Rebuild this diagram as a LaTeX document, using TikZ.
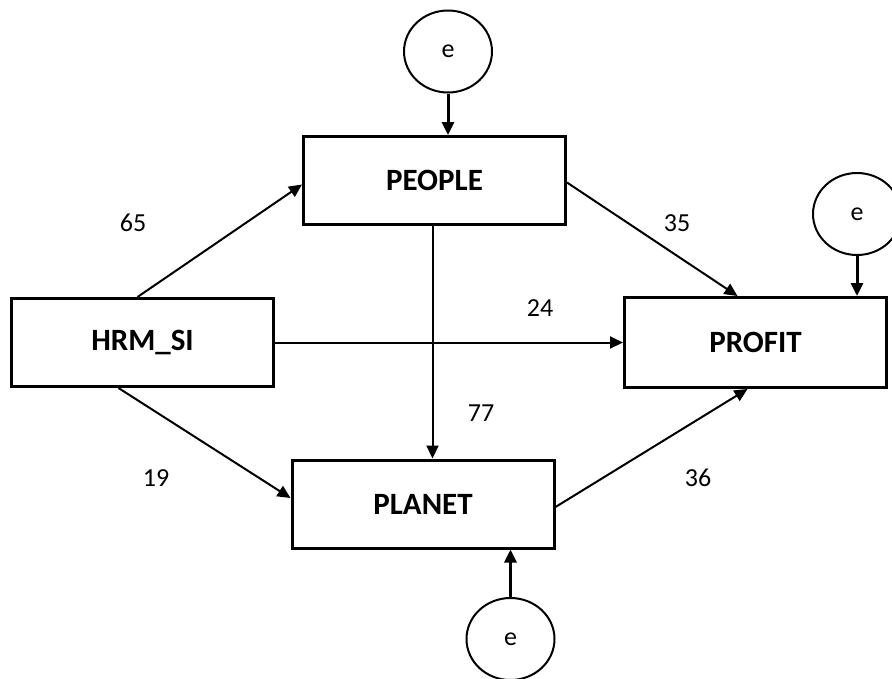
\documentclass[tikz,border=0pt]{standalone}
\usepackage{fontspec}
\setmainfont{Carlito}
\usetikzlibrary{shapes.geometric, arrows.meta, positioning}

\begin{document}
\begin{tikzpicture}[
    x=1pt, y=-1pt,
    var/.style={rectangle, draw, line width=3pt, minimum width=262pt, minimum height=88pt, inner sep=0pt, font=\fontsize{31}{31}\selectfont\bfseries},
    err/.style={ellipse, draw, line width=2pt, minimum width=88pt, minimum height=82pt, inner sep=0pt, font=\fontsize{26}{26}\selectfont},
    arrow/.style={-{Triangle[length=13pt, width=12pt]}, line width=2pt},
    errarrow/.style={-{Triangle[length=13pt, width=12pt]}, line width=3pt},
    coef/.style={font=\fontsize{26}{26}\selectfont}
]
    \useasboundingbox (0,0) rectangle (892,678);

    % Observed variables
    \node[var] (people) at (434.5, 180.5) {PEOPLE};
    \node[var] (hrm) at (142.5, 342.5) {HRM\_SI};
    \node[var, minimum height=90pt] (profit) at (755.5, 342.5) {PROFIT};
    \node[var] (planet) at (423, 504) {PLANET};

    % Error terms
    \node[err] (epeople) at (448, 51.5) {e};
    \node[err] (eprofit) at (857, 214) {e};
    \node[err] (eplanet) at (510.5, 639) {e};

    \draw[errarrow] (epeople.south) -- (epeople.south |- people.north);
    \draw[errarrow] (eprofit.south) -- (eprofit.south |- profit.north);
    \draw[errarrow] (eplanet.north) -- (eplanet.north |- planet.south);

    % Paths from HRM_SI
    \draw[arrow] ([xshift=-5pt]hrm.north) -- ([yshift=-4pt]people.west);
    \draw[arrow] (hrm.east) -- (profit.west);
    \draw[arrow] ([xshift=-24pt]hrm.south) -- ([yshift=6pt]planet.west);

    % Paths between mediators and outcome
    \draw[arrow] ([xshift=-2pt]people.south) -- ([xshift=-2pt]people.south |- planet.north);
    \draw[arrow] ([yshift=-2pt]people.east) -- ([xshift=-18pt]profit.north);
    \draw[arrow] ([yshift=-3pt]planet.east) -- ([xshift=-8pt]profit.south);

    % Path coefficients
    \node[coef] (c65) at (133, 223) {65};
    \node[coef] (c35) at (677, 223) {35};
    \node[coef] (c24) at (540, 308) {24};
    \node[coef] (c77) at (481, 413) {77};
    \node[coef] (c19) at (156, 478) {19};
    \node[coef] (c36) at (698, 478) {36};
\end{tikzpicture}
\end{document}
